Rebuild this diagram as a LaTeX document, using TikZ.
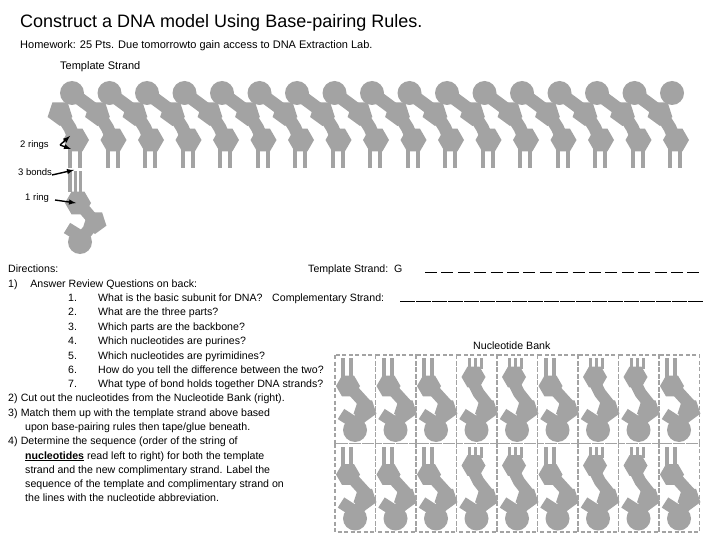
\documentclass[tikz,border=0pt]{standalone}
\usepackage{fontspec}
\setmainfont{Liberation Sans}
\usetikzlibrary{shapes.geometric}
\definecolor{ng}{HTML}{A3A3A3}
\tikzset{
 nuc/.style={fill=ng,draw=none},
 band/.style={draw=ng,line width=12pt},
 cellb/.style={draw=ng,line width=1.6pt,dashed,dash pattern=on 4pt off 2.5pt},
 txt/.style={anchor=base west,inner sep=0pt,font=\fontsize{10.6}{13}\selectfont},
 arr/.style={-latex,line width=1.4pt,black},
}
\newcommand\hexa[3]{\fill[nuc] (#1,#2) +(0:#3) -- +(60:#3) -- +(120:#3) -- +(180:#3) -- +(240:#3) -- +(300:#3) -- cycle;}
\newcommand\penta[3]{\fill[nuc] (#1,#2) +(90:#3) -- +(162:#3) -- +(234:#3) -- +(306:#3) -- +(18:#3) -- cycle;}
\begin{document}
\begin{tikzpicture}[x=1pt,y=-1pt]
\useasboundingbox (0,0) rectangle (720,540);
\fill[white] (0,0) rectangle (720,540);
% template strand
\foreach \c in {0,...,16}{
 \pgfmathsetmacro\cx{72+37.5*\c}
 \fill[nuc] (\cx,93) circle (12);
 \ifnum\c<16 \draw[band,line width=13pt] (\cx,93) -- (\cx+25.5,112); \fi
 \penta{\cx-12}{113}{13}
 \draw[band,line width=13pt] (\cx-12,112) -- (\cx-2,128) -- (\cx+3,140);
 \hexa{\cx+4}{140}{13}
 \fill[nuc] (\cx-4,148) rectangle (\cx,168);
 \fill[nuc] (\cx+6,148) rectangle (\cx+10,168);
}
% paired nucleotide
\fill[nuc] (68,171) rectangle (72,192);
\fill[nuc] (74,171) rectangle (77,192);
\fill[nuc] (79,171) rectangle (82,192);
\hexa{78}{203}{13}
\draw[band] (78,202) -- (95,222);
\penta{95}{222}{12}
\draw[band] (95,222) -- (80,240);
\draw[band] (80,236) -- (67,228);
\fill[nuc] (80,242) circle (12);
% labels
\node[txt,font=\fontsize{18}{20}\selectfont] (t) at (20,28) {Construct a DNA model Using Base-pairing Rules.};
\node[txt,font=\fontsize{11}{12}\selectfont] (h) at (20,49) {Homework: 25 Pts. Due tomorrowto gain access to DNA Extraction Lab.};
\node[txt,font=\fontsize{11}{13}\selectfont] (ts) at (60,70) {Template Strand};
\node[txt,font=\fontsize{9.5}{11}\selectfont] (r2) at (20,148) {2 rings};
\node[txt,font=\fontsize{9.5}{11}\selectfont] (b3) at (18,176) {3 bonds};
\node[txt,font=\fontsize{9.5}{11}\selectfont] (r1) at (25,201) {1 ring};
\coordinate (a1) at (60,145); \coordinate (a1t) at (70,136);
\coordinate (a2t) at (71,149);
\draw[arr] (a1) -- (a1t); \draw[arr] (a1) -- (a2t);
\coordinate (b1) at (52,175); \coordinate (b1t) at (74,170); \draw[arr] (b1) -- (b1t);
\coordinate (c1) at (55,200); \coordinate (c1t) at (76,203); \draw[arr] (c1) -- (c1t);
% directions
\node[txt] at (8,272) {Directions:};
\node[txt] at (8,287) {1)\hspace{1.2em}Answer Review Questions on back:};
\foreach \n/\q [count=\i] in {
 1./What is the basic subunit for DNA?,
 2./What are the three parts?,
 3./Which parts are the backbone?,
 4./Which nucleotides are purines?,
 5./Which nucleotides are pyrimidines?,
 6./How do you tell the difference between the two?,
 7./What type of bond holds together DNA strands?}{
 \node[txt] at (68,287+14.4*\i) {\n};
 \node[txt] at (98,287+14.4*\i) {\q};
}
\node[txt] at (8,401) {2)\hspace{0.3em}Cut out the nucleotides from the Nucleotide Bank (right).};
\node[txt] at (8,416) {3)\hspace{0.3em}Match them up with the template strand above based};
\node[txt] at (25,430) {upon base-pairing rules then tape/glue beneath.};
\node[txt] at (8,444) {4)\hspace{0.3em}Determine the sequence (order of the string of};
\node[txt] at (25,459) {\textbf{\underline{nucleotides}} read left to right) for both the template};
\node[txt] at (25,473) {strand and the new complimentary strand. Label the};
\node[txt] at (25,487) {sequence of the template and complimentary strand on};
\node[txt] at (25,501) {the lines with the nucleotide abbreviation.};
% strand lines
\node[txt] at (308,272) {Template Strand:\ \ G};
\foreach \k in {0,...,16}{\draw[black,line width=0.6pt] (425+16.4*\k,272) -- ++(12,0);}
\node[txt] at (272,301) {Complementary Strand:};
\foreach \k in {0,...,18}{\draw[black,line width=0.6pt] (400+16*\k,301) -- ++(14.5,0);}
\node[txt] at (473,349) {Nucleotide Bank};
% bank
\foreach \r in {0,1}{
 \foreach \i/\ty in {0/1,1/1,2/1,3/2,4/2,5/1,6/2,7/2,8/1}{
  \pgfmathsetmacro\xo{335+40.5*\i}
  \pgfmathsetmacro\yo{355+88.5*\r}
  \draw[cellb] (\xo,\yo) rectangle (\xo+40.5,\yo+88.5);
  \ifnum\ty=1
   \fill[nuc] (\xo+6,\yo+3) rectangle (\xo+10,\yo+24);
   \fill[nuc] (\xo+14,\yo+3) rectangle (\xo+18,\yo+24);
   \hexa{\xo+13}{\yo+31}{12}
   \draw[band] (\xo+13,\yo+30) -- (\xo+33,\yo+52);
  \else
   \fill[nuc] (\xo+11,\yo+3) rectangle (\xo+14,\yo+14);
   \fill[nuc] (\xo+17,\yo+3) rectangle (\xo+20,\yo+14);
   \fill[nuc] (\xo+23,\yo+3) rectangle (\xo+26,\yo+14);
   \hexa{\xo+17}{\yo+22}{12}
   \draw[band] (\xo+14,\yo+22) -- (\xo+22,\yo+38) -- (\xo+33,\yo+52);
  \fi
  \penta{\xo+30}{\yo+55}{12}
  \draw[band] (\xo+30,\yo+55) -- (\xo+20,\yo+72);
  \draw[band] (\xo+20,\yo+68) -- (\xo+6,\yo+59);
  \fill[nuc] (\xo+20,\yo+75) circle (12);
 }
}
\end{tikzpicture}
\end{document}
